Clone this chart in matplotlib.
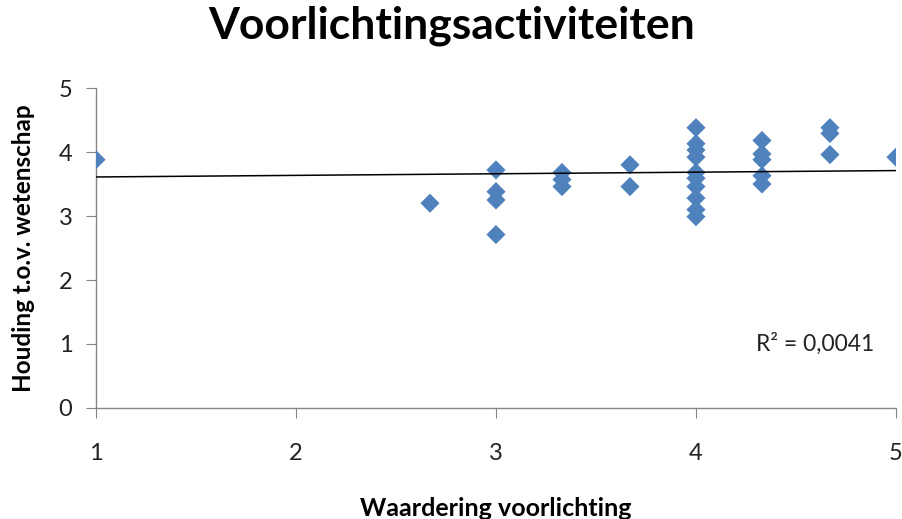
import numpy as np
import matplotlib
matplotlib.use("Agg")
import matplotlib.pyplot as plt

# Survey scores: appreciation of outreach (x) vs attitude towards science (y)
waardering = [1.0,
              2.67,
              3.0, 3.0, 3.0, 3.0,
              3.33, 3.33, 3.33,
              3.67, 3.67,
              4.0, 4.0, 4.0, 4.0, 4.0, 4.0, 4.0, 4.0, 4.0, 4.0,
              4.33, 4.33, 4.33, 4.33, 4.33,
              4.67, 4.67, 4.67,
              5.0]
houding = [3.88,
           3.20,
           3.72, 3.38, 3.25, 2.71,
           3.68, 3.57, 3.46,
           3.80, 3.46,
           4.38, 4.13, 4.03, 3.92, 3.68, 3.59, 3.46, 3.28, 3.10, 2.99,
           4.18, 3.97, 3.88, 3.63, 3.50,
           4.38, 4.29, 3.96,
           3.92]

# Linear trend line (as reported with R²)
trend_slope = 0.025
trend_intercept = 3.585
r2_label = "R² = 0,0041"

x_ticks = [1, 2, 3, 4, 5]
y_ticks = [0, 1, 2, 3, 4, 5]

plt.rcParams['font.family'] = ['Lato', 'DejaVu Sans']

fig = plt.figure(figsize=(9.03, 5.19), dpi=100)
ax = fig.add_axes([0.1063, 0.2139, 0.8859, 0.6165])

ax.scatter(waardering, houding, marker='D', s=95, color='#4F81BD',
           edgecolors='none', zorder=3)

xs = np.array([x_ticks[0], x_ticks[-1]], dtype=float)
ax.plot(xs, trend_slope * xs + trend_intercept, color='black', lw=1.1, zorder=4)

ax.text(4.3, 1.0, r2_label, fontsize=16.5, color='#222222', va='center', ha='left')

ax.set_xlim(1, 5)
ax.set_ylim(0, 5)
ax.set_xticks(x_ticks)
ax.set_yticks(y_ticks)
ax.tick_params(axis='both', direction='out', length=7, color='#868686',
               labelsize=17, labelcolor='#222222')
ax.tick_params(axis='x', pad=18)
ax.tick_params(axis='y', pad=10)
for side in ('top', 'right'):
    ax.spines[side].set_visible(False)
for side in ('left', 'bottom'):
    ax.spines[side].set_color('#868686')
    ax.spines[side].set_linewidth(1.0)

ax.set_xlabel("Waardering voorlichting", fontsize=18, fontweight='bold', labelpad=24)
ax.set_ylabel("Houding t.o.v. wetenschap", fontsize=17.5, fontweight='bold', labelpad=17)
fig.suptitle("Voorlichtingsactiviteiten", fontsize=32, fontweight='bold', y=0.99)

fig.savefig("out.png", dpi=100)
